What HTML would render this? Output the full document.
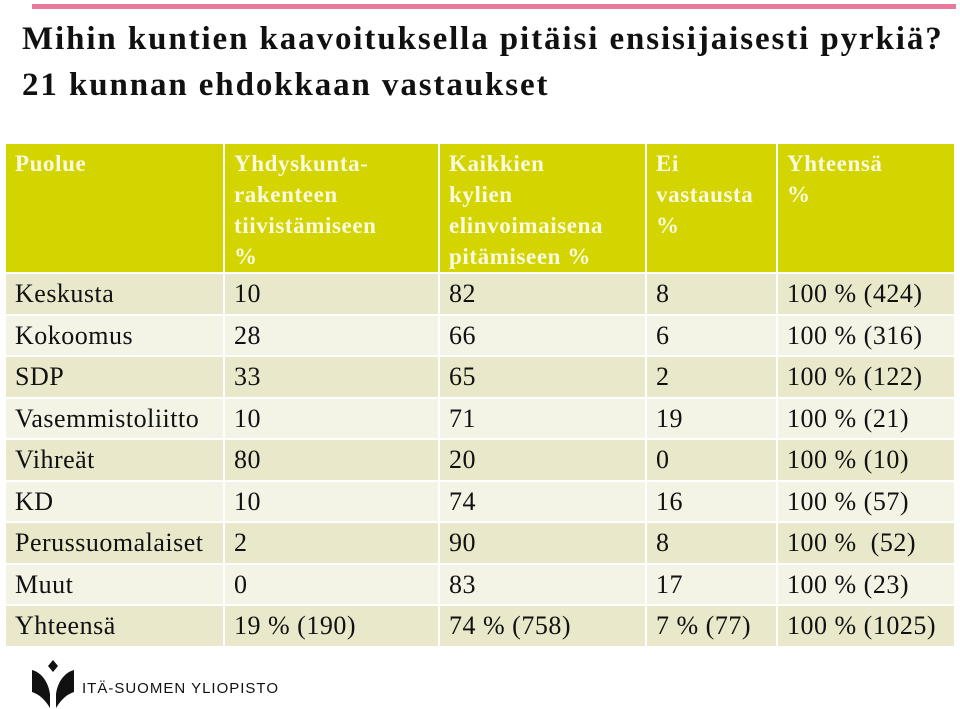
<!DOCTYPE html>
<html><head><meta charset="utf-8"><style>
body{margin:0;width:960px;height:709px;background:#fff;position:relative;overflow:hidden;font-family:"Liberation Serif",serif}
.bar{position:absolute;left:32px;top:4px;width:924px;height:5px;background:#e8799a}
h1{position:absolute;left:22px;top:16px;margin:0;font-size:33px;letter-spacing:1.9px;line-height:46px;font-weight:bold;color:#111;white-space:nowrap}
table{position:absolute;left:4px;top:142px;border-collapse:collapse;table-layout:fixed;width:950px}
td,th{border:2px solid #fff;padding:0 0 0 9px;text-align:left;vertical-align:middle;font-size:26px;letter-spacing:0.5px;color:#111;font-weight:normal;height:39.5px;line-height:39px;white-space:nowrap;overflow:visible}
th{background:#d4d400;color:#fafae0;font-size:23px;letter-spacing:0.6px;font-weight:bold;line-height:31px;height:122px;padding-top:4px;vertical-align:top}
tr.d td{background:#e9e8cb}
tr.l td{background:#f3f3e6}
.logo{position:absolute;left:30px;top:660px}
.logotxt{position:absolute;left:82px;top:680px;font-family:"Liberation Sans",sans-serif;font-size:15px;letter-spacing:1px;color:#111}
</style></head><body>
<div class="bar"></div>
<h1>Mihin kuntien kaavoituksella pitäisi ensisijaisesti pyrkiä?<br>21 kunnan ehdokkaan vastaukset</h1>
<table>
<colgroup><col style="width:219px"><col style="width:215px"><col style="width:207px"><col style="width:131px"><col style="width:178px"></colgroup>
<tr><th>Puolue</th><th>Yhdyskunta-<br>rakenteen<br>tiivistämiseen<br>%</th><th>Kaikkien<br>kylien<br>elinvoimaisena<br>pitämiseen %</th><th>Ei<br>vastausta<br>%</th><th>Yhteensä<br>%</th></tr>
<tr class="d"><td>Keskusta</td><td>10</td><td>82</td><td>8</td><td>100 % (424)</td></tr>
<tr class="l"><td>Kokoomus</td><td>28</td><td>66</td><td>6</td><td>100 % (316)</td></tr>
<tr class="d"><td>SDP</td><td>33</td><td>65</td><td>2</td><td>100 % (122)</td></tr>
<tr class="l"><td>Vasemmistoliitto</td><td>10</td><td>71</td><td>19</td><td>100 % (21)</td></tr>
<tr class="d"><td>Vihreät</td><td>80</td><td>20</td><td>0</td><td>100 % (10)</td></tr>
<tr class="l"><td>KD</td><td>10</td><td>74</td><td>16</td><td>100 % (57)</td></tr>
<tr class="d"><td>Perussuomalaiset</td><td>2</td><td>90</td><td>8</td><td>100 %&nbsp; (52)</td></tr>
<tr class="l"><td>Muut</td><td>0</td><td>83</td><td>17</td><td>100 % (23)</td></tr>
<tr class="d"><td>Yhteensä</td><td>19 % (190)</td><td>74 % (758)</td><td>7 % (77)</td><td>100 % (1025)</td></tr>
</table>
<svg class="logo" width="46" height="48" viewBox="0 0 46 48">
<path d="M23 0 L28 6 L23 12 L18 6Z" fill="#111"/>
<path d="M2 10 C10 12 18 20 20 34 L20 48 C14 38 8 34 2 32Z" fill="#111"/>
<path d="M44 10 C36 12 28 20 26 34 L26 48 C32 38 38 34 44 32Z" fill="#111"/>
</svg>
<div class="logotxt">ITÄ-SUOMEN YLIOPISTO</div>
</body></html>
